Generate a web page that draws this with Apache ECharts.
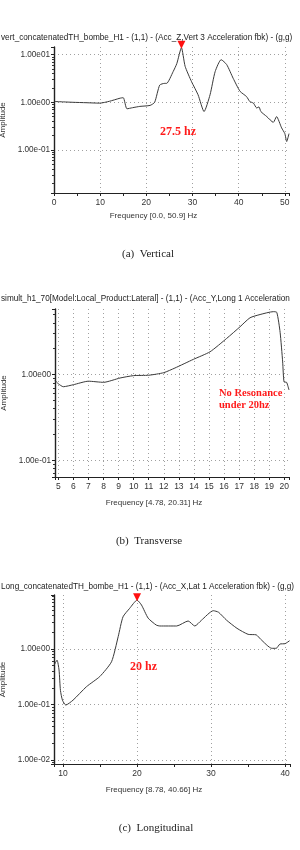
<!DOCTYPE html>
<html>
<head>
<meta charset="utf-8">
<script src="https://cdn.jsdelivr.net/npm/echarts@6/dist/echarts.min.js"></script>
<style>
  html, body { margin: 0; padding: 0; background: #fff; }
  #chart { width: 300px; height: 850px; }
</style>
</head>
<body>
<div id="chart"></div>
<script>
// (a) vertical
var vertFreq = [0.15, 2, 4.1, 7, 9.9, 12, 14.3, 15.0, 15.8, 17, 18.6, 20.8, 21.8, 22.9, 24.0, 24.4, 25.8, 26.6, 27.6, 28.4, 29.8, 31.2, 32.5, 33.8, 34.9, 36.2, 37.4, 38.8, 40.3, 41.7, 42.4, 43.2, 43.9, 44.4, 44.8, 46.1, 47.5, 48.2, 49.3, 50.0, 50.4, 50.9];
var vertAmp = [1.04, 1.02, 1.0, 0.98, 0.96, 1.05, 1.22, 1.25, 0.73, 0.77, 0.82, 0.86, 1.0, 2.3, 2.5, 2.5, 4.4, 6.5, 14, 5.7, 2.7, 1.44, 0.64, 1.44, 4.4, 7.85, 6.2, 3.2, 1.7, 1.32, 1.04, 0.96, 0.76, 0.8, 0.64, 0.5, 0.38, 0.5, 0.29, 0.22, 0.15, 0.22];

// (b) transverse
var transFreq = [4.78, 5.0, 5.33, 6.0, 7.0, 8.0, 9.1, 10.0, 11.0, 12.0, 12.74, 13.96, 15.07, 16.17, 17.06, 17.72, 18.39, 19.27, 19.5, 19.72, 19.89, 19.98, 20.15, 20.31];
var transAmp = [0.85, 0.78, 0.72, 0.76, 0.835, 0.81, 0.91, 0.97, 0.98, 1.05, 1.19, 1.5, 1.84, 2.63, 3.6, 4.58, 5.0, 5.4, 5.3, 3.1, 1.4, 0.82, 0.81, 0.66];

// (c) longitudinal
var longFreq = [8.8, 9.19, 9.46, 9.65, 9.92, 10.37, 11.35, 13.17, 14.97, 16.55, 17.45, 18.1, 19.0, 20.0, 20.6, 21.5, 22.6, 23.1, 25.35, 26.9, 27.8, 28.7, 30.3, 31.0, 32.1, 33.5, 35.0, 36.1, 36.7, 38.2, 38.8, 39.3, 40.0, 40.6];
var longAmp = [0.515, 0.63, 0.42, 0.18, 0.12, 0.098, 0.12, 0.21, 0.32, 0.59, 1.67, 3.8, 5.4, 7.6, 6.2, 3.6, 2.7, 2.6, 2.6, 3.2, 2.6, 3.3, 4.9, 4.6, 3.3, 2.36, 1.84, 1.8, 1.5, 1.03, 1.03, 1.23, 1.25, 1.41];

var plotTitles = [
    'vert_concatenatedTH_bombe_H1 - (1,1) - (Acc_Z,Vert 3 Acceleration fbk) - (g,g)',
    'simult_h1_70[Model:Local_Product:Lateral] - (1,1) - (Acc_Y,Long 1 Acceleration',
    'Long_concatenatedTH_bombe_H1 - (1,1) - (Acc_X,Lat 1 Acceleration fbk) - (g,g)'
];
var freqNames = ['Frequency [0.0, 50.9] Hz', 'Frequency [4.78, 20.31] Hz', 'Frequency [8.78, 40.66] Hz'];
var captions = ['(a)  Vertical', '(b)  Transverse', '(c)  Longitudinal'];

var chart = echarts.init(document.getElementById('chart'));

function zip(xs, ys) {
    return xs.map(function (x, i) { return [x, ys[i]]; });
}

// 1.00e01 style labels, only on the decades
function expLabel(v) {
    var l = Math.log10(v);
    var e = Math.round(l);
    if (Math.abs(l - e) > 1e-6) return '';
    var a = Math.abs(e);
    return '1.00e' + (e < 0 ? '-' : '') + (a < 10 ? '0' : '') + a;
}
function intLabel(v) {
    return Math.abs(v - Math.round(v)) < 1e-6 ? String(Math.round(v)) : '';
}

var grids = [
    { left: 54, right: 11, top: 47, height: 146 },
    { left: 55, right: 11, top: 309, height: 168 },
    { left: 54, right: 10, top: 595, height: 169 }
];
var xRanges = [[0, 50.9], [4.78, 20.31], [8.78, 40.66]];
var yRanges = [[0.01245, 14.5], [0.0638, 5.8], [0.0085, 9.4]];

var gridLine = { show: true, showMinLine: false, showMaxLine: false, lineStyle: { color: '#a0a0a0', type: [1, 3], width: 1 } };

var xAxes = xRanges.map(function (r, i) {
    var ax = {
        type: 'value', gridIndex: i, min: r[0], max: r[1],
        name: freqNames[i], nameLocation: 'middle', nameGap: i === 0 ? 19 : 22,
        nameTextStyle: { fontSize: 8, fontFamily: 'Liberation Sans', color: '#333', padding: [0, 36, 0, 0] },
        axisLine: { onZero: false, lineStyle: { color: '#222', width: 1.2 } },
        axisTick: { show: true, length: 3, lineStyle: { color: '#222' } },
        axisLabel: { fontSize: 8.5, fontFamily: 'Liberation Sans', color: '#333', margin: 5, formatter: intLabel },
        splitLine: gridLine
    };
    if (i === 0) { ax.interval = 10; ax.minorTick = { show: true, splitNumber: 2, length: 3, lineStyle: { color: '#222' } }; }
    if (i === 1) { ax.splitNumber = 16; }
    if (i === 2) { ax.splitNumber = 3; ax.minorTick = { show: true, splitNumber: 2, length: 3, lineStyle: { color: '#222' } }; }
    return ax;
});

var yAxes = yRanges.map(function (r, i) {
    return {
        type: 'log', gridIndex: i, min: r[0], max: r[1], logBase: 10,
        name: 'Amplitude', nameLocation: 'middle', nameGap: 41, nameRotate: 90,
        nameTextStyle: { fontSize: 8, fontFamily: 'Liberation Sans', color: '#333' },
        axisLine: { show: true, lineStyle: { color: '#222', width: 1.4 } },
        axisTick: { show: true, length: 3, lineStyle: { color: '#222' } },
        minorTick: { show: true, splitNumber: 9, length: 2, lineStyle: { color: '#333' } },
        axisLabel: { fontSize: 8.2, fontFamily: 'Liberation Sans', color: '#333', margin: 4, formatter: expLabel },
        splitLine: gridLine
    };
});

var peakMark = {
    symbol: 'triangle', symbolSize: [8, 8], symbolRotate: 180, symbolOffset: [0, -3],
    itemStyle: { color: '#ff1010' }, label: { show: false },
    data: [{ type: 'max' }]
};

function lineSeries(i, xs, ys, mark) {
    var s = {
        type: 'line', xAxisIndex: i, yAxisIndex: i, data: zip(xs, ys),
        showSymbol: false, smooth: 0.2, silent: true,
        lineStyle: { color: '#3a3a3a', width: 1 }
    };
    if (mark) s.markPoint = mark;
    return s;
}

var redFont = 'bold 12px "Liberation Serif"';
var redFontSmall = 'bold 10.5px "Liberation Serif"';
var capFont = '11px "Liberation Serif"';

var option = {
    animation: false,
    backgroundColor: '#fff',
    title: plotTitles.map(function (t, i) {
        return { text: t, left: 1, top: [34, 295, 583][i], padding: 0,
            textStyle: { fontSize: 8.2, fontWeight: 'normal', fontFamily: 'Liberation Sans', color: '#222' } };
    }),
    grid: grids.map(function (g) { g.outerBoundsMode = 'none'; return g; }),
    xAxis: xAxes,
    yAxis: yAxes,
    series: [
        lineSeries(0, vertFreq, vertAmp, peakMark),
        lineSeries(1, transFreq, transAmp, null),
        lineSeries(2, longFreq, longAmp, peakMark)
    ],
    graphic: [
        { type: 'text', x: 160, y: 132, style: { text: '27.5 hz', font: redFont, fill: '#ff1a1a', verticalAlign: 'middle' } },
        { type: 'text', x: 219, y: 393, style: { text: 'No Resonance', font: redFontSmall, fill: '#ff1a1a', verticalAlign: 'middle' } },
        { type: 'text', x: 219, y: 405, style: { text: 'under 20hz', font: redFontSmall, fill: '#ff1a1a', verticalAlign: 'middle' } },
        { type: 'text', x: 130, y: 667, style: { text: '20 hz', font: redFont, fill: '#ff1a1a', verticalAlign: 'middle' } },
        { type: 'text', x: 148, y: 254, style: { text: captions[0], font: capFont, fill: '#222', align: 'center', verticalAlign: 'middle' } },
        { type: 'text', x: 149, y: 541, style: { text: captions[1], font: capFont, fill: '#222', align: 'center', verticalAlign: 'middle' } },
        { type: 'text', x: 156, y: 828, style: { text: captions[2], font: capFont, fill: '#222', align: 'center', verticalAlign: 'middle' } }
    ]
};
chart.setOption(option);
</script>
</body>
</html>
